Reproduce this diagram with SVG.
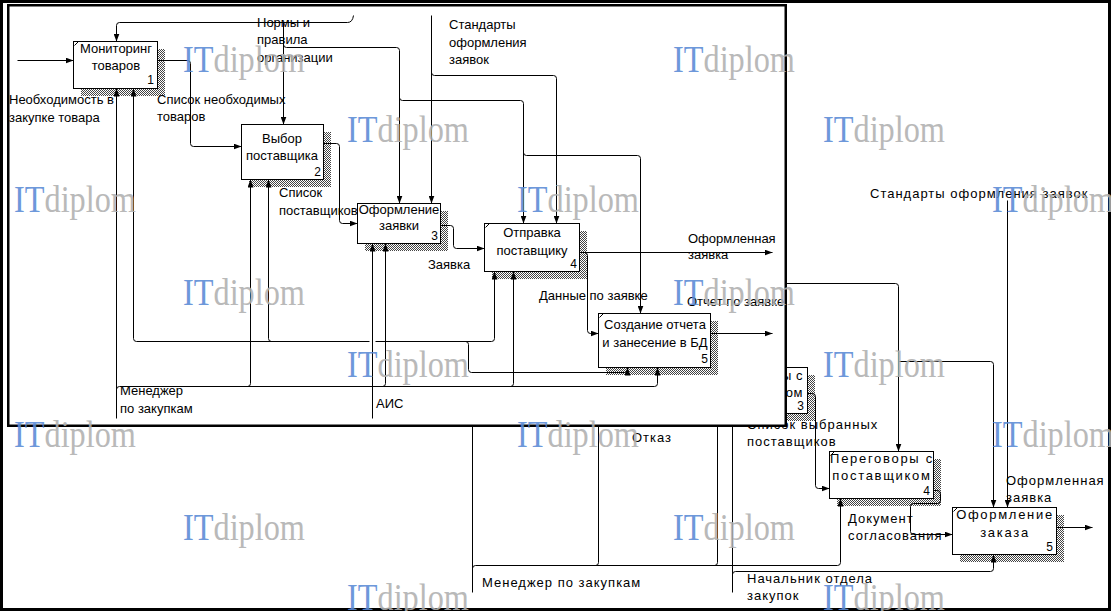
<svg xmlns="http://www.w3.org/2000/svg" width="1111" height="611" viewBox="0 0 1111 611">
<defs>
<style>
.bx{fill:#fff;stroke:#000;stroke-width:1}
.sh{fill:url(#hatch)}
.sl{stroke:#000;stroke-width:1;fill:none}
.t{font-family:"Liberation Sans",Arial,sans-serif;font-size:13px;fill:#000}
.c{text-anchor:middle}
.n{font-size:12px;text-anchor:end}
.e{text-anchor:end}
.bl{letter-spacing:1px}
.bb{letter-spacing:1.7px}
.ln{fill:none;stroke:#000;stroke-width:1}
.ar{marker-end:url(#ar)}
.wm{font-family:"Liberation Serif","Times New Roman",serif;font-size:38px;opacity:0.88}
.wi{fill:#5a8ad6}
.wd{fill:#b0b0b0}
</style>
<pattern id="hatch" width="2" height="2" patternUnits="userSpaceOnUse">
<rect width="2" height="2" fill="#fff"/>
<rect width="1" height="1" fill="#444"/>
<rect x="1" y="1" width="1" height="1" fill="#444"/>
</pattern>
<marker id="ar" viewBox="0 0 8 6" refX="8" refY="3" markerWidth="8" markerHeight="6" markerUnits="userSpaceOnUse" orient="auto">
<path d="M0,0 L8,3 L0,6 z" fill="#000"/>
</marker>
</defs>

<!-- background diagram -->
<g id="diagram-b">
<rect x="1.5" y="1.5" width="1108" height="608" fill="#fff" stroke="#000" stroke-width="3"/>
<g id="b3">
<rect class="sh" x="708" y="375" width="107" height="46"/>
<rect class="bx" x="700.5" y="367.5" width="107" height="46"/>
<text class="t e" x="803" y="380" style="letter-spacing:0.5px">ы с</text>
<text class="t e" x="803" y="397" style="letter-spacing:0.5px">ом</text>
<text class="t n" x="804" y="410">3</text>
</g>
<g id="b4">
<rect class="sh" x="837" y="459" width="104" height="47"/>
<rect class="bx" x="829.5" y="451.5" width="104" height="47"/>
<path class="sl" d="M830.5,455.5 L834.5,451.5"/>
<text class="t c bb" x="882" y="463">Переговоры с</text>
<text class="t c bb" x="882" y="480">поставщиком</text>
<text class="t n" x="930" y="495">4</text>
</g>
<g id="b5">
<rect class="sh" x="960" y="515" width="104" height="47"/>
<rect class="bx" x="952.5" y="507.5" width="104" height="47"/>
<path class="sl" d="M953.5,511.5 L957.5,507.5"/>
<text class="t c bb" x="1005" y="519">Оформление</text>
<text class="t c bb" x="1005" y="537">заказа</text>
<text class="t n" x="1053" y="551">5</text>
</g>
<g id="connectors-b" transform="translate(.5 .5)">
<path class="ln ar" d="M786,283 H895 Q898,283 898,286 V451"/>
<path class="ln ar" d="M898,361 H990 Q993,361 993,364 V507"/>
<path class="ln ar" d="M1007,200 V507"/>
<path class="ln ar" d="M807,393 H812 Q815,393 815,396 V485 Q815,488 818,488 H829"/>
<path class="ln ar" d="M933,490 H937 Q940,490 940,493 V500 Q940,503 937,503 H913 Q910,503 910,506 V531 Q910,534 913,534 H952"/>
<path class="ln ar" d="M1056,527 H1092"/>
<path class="ln" d="M472,592 V426"/>
<path class="ln ar" d="M472,568 Q472,565 475,565 H837 Q840,565 840,562 V498"/>
<path class="ln" d="M595,565 Q598,565 598,562 V426"/>
<path class="ln" d="M714,565 Q717,565 717,562 V426"/>
<path class="ln" d="M732,592 V426"/>
<path class="ln ar" d="M732,574 Q732,571 735,571 H990 Q993,571 993,568 V554"/>
</g>
<g id="labels-b">
<text class="t bl" x="870" y="198">Стандарты оформления заявок</text>
<text class="t bl" x="747" y="429">Список выбранных</text>
<text class="t bl" x="747" y="446">поставщиков</text>
<text class="t bl" x="632" y="442">Отказ</text>
<text class="t bl" x="1006" y="485">Оформленная</text>
<text class="t bl" x="1006" y="502">заявка</text>
<text class="t bl" x="848" y="523">Документ</text>
<text class="t bl" x="848" y="540">согласования</text>
<text class="t bl" x="482" y="587">Менеджер по закупкам</text>
<text class="t bl" x="747" y="583">Начальник отдела</text>
<text class="t bl" x="747" y="600">закупок</text>
</g>
</g>

<!-- foreground diagram -->
<g id="diagram-a">
<rect x="8.25" y="5.25" width="777.5" height="420.5" fill="#fff" stroke="#000" stroke-width="2.5"/>
<g id="a1">
<rect class="sh" x="81" y="49" width="84" height="47"/>
<rect class="bx" x="73.5" y="41.5" width="84" height="47"/>
<path class="sl" d="M74.5,45.5 L78.5,41.5"/>
<text class="t c" x="116" y="53">Мониторинг</text>
<text class="t c" x="116" y="70">товаров</text>
<text class="t n" x="154" y="84">1</text>
</g>
<g id="a2">
<rect class="sh" x="249" y="132" width="82" height="55"/>
<rect class="bx" x="241.5" y="124.5" width="82" height="55"/>
<text class="t c" x="282" y="143">Выбор</text>
<text class="t c" x="282" y="160">поставщика</text>
<text class="t n" x="321" y="176">2</text>
</g>
<g id="a3">
<rect class="sh" x="365" y="211" width="83" height="40"/>
<rect class="bx" x="357.5" y="203.5" width="83" height="40"/>
<text class="t c" x="399" y="214">Оформление</text>
<text class="t c" x="399" y="230">заявки</text>
<text class="t n" x="438" y="240">3</text>
</g>
<g id="a4">
<rect class="sh" x="492" y="231" width="95" height="48"/>
<rect class="bx" x="484.5" y="223.5" width="95" height="48"/>
<path class="sl" d="M485.5,227.5 L489.5,223.5"/>
<text class="t c" x="532" y="237">Отправка</text>
<text class="t c" x="532" y="255">поставщику</text>
<text class="t n" x="577" y="268">4</text>
</g>
<g id="a5">
<rect class="sh" x="606" y="321" width="112" height="54"/>
<rect class="bx" x="598.5" y="313.5" width="112" height="54"/>
<path class="sl" d="M599.5,317.5 L603.5,313.5"/>
<text class="t c" x="655" y="329">Создание отчета</text>
<text class="t c" x="655" y="347">и занесение в БД</text>
<text class="t n" x="708" y="363">5</text>
</g>
<g id="connectors-a" transform="translate(.5 .5)">
<path class="ln ar" d="M17,60 H73"/>
<path class="ln ar" d="M353,15 Q352,22 347,22 H119 Q116,22 116,25 V41"/>
<path class="ln ar" d="M283,22 V124"/>
<path class="ln ar" d="M283,44 Q283,47 286,47 H396 Q399,47 399,50 V203"/>
<path class="ln ar" d="M399,97 Q399,100 402,100 H520 Q523,100 523,103 V223"/>
<path class="ln ar" d="M523,152 Q523,155 526,155 H637 Q640,155 640,158 V313"/>
<path class="ln ar" d="M431,15 V203"/>
<path class="ln ar" d="M431,72 Q431,75 434,75 H553 Q556,75 556,78 V223"/>
<path class="ln ar" d="M157,60 H187 Q190,60 190,63 V143 Q190,146 193,146 H241"/>
<path class="ln ar" d="M323,143 H336 Q339,143 339,146 V220 Q339,223 342,223 H357"/>
<path class="ln ar" d="M440,225 H450 Q453,225 453,228 V245 Q453,248 456,248 H484"/>
<path class="ln ar" d="M579,252 H772"/>
<path class="ln ar" d="M584,252 Q587,252 587,255 V330 Q587,333 590,333 H598"/>
<path class="ln ar" d="M710,333 H772"/>
<path class="ln ar" d="M116,418 V88"/>
<path class="ln ar" d="M116,389 Q116,386 119,386 H654 Q657,386 657,383 V367"/>
<path class="ln ar" d="M247,386 Q250,386 250,383 V179"/>
<path class="ln ar" d="M382,386 Q385,386 385,383 V243"/>
<path class="ln ar" d="M510,386 Q513,386 513,383 V271"/>
<path class="ln ar" d="M372,418 V243"/>
<path class="ln ar" d="M369,341 H136 Q133,341 133,338 V88"/>
<path class="ln ar" d="M271,341 Q268,341 268,338 V179"/>
<path class="ln ar" d="M375,341 H491 Q494,341 494,338 V271"/>
<path class="ln ar" d="M465,341 Q468,341 468,344 V369 Q468,372 471,372 H624 Q627,372 627,369 V367"/>
</g>
<g id="labels-a">
<text class="t" x="9" y="104">Необходимость в</text>
<text class="t" x="9" y="122">закупке товара</text>
<text class="t" x="157" y="104">Список необходимых</text>
<text class="t" x="157" y="121">товаров</text>
<text class="t" x="257" y="27">Нормы и</text>
<text class="t" x="257" y="44">правила</text>
<text class="t" x="257" y="62">организации</text>
<text class="t" x="449" y="29">Стандарты</text>
<text class="t" x="449" y="47">оформления</text>
<text class="t" x="449" y="64">заявок</text>
<text class="t" x="279" y="197">Список</text>
<text class="t" x="279" y="215">поставщиков</text>
<text class="t" x="428" y="269">Заявка</text>
<text class="t" x="688" y="243">Оформленная</text>
<text class="t" x="688" y="259">заявка</text>
<text class="t" x="539" y="300">Данные по заявке</text>
<text class="t" x="687" y="306">Отчет по заявке</text>
<text class="t" x="120" y="395">Менеджер</text>
<text class="t" x="120" y="413">по закупкам</text>
<text class="t" x="376" y="408">АИС</text>
</g>
</g>

<g id="watermarks" class="wm">
<text x="183" y="72" textLength="122" lengthAdjust="spacingAndGlyphs"><tspan class="wi">IT</tspan><tspan class="wd">diplom</tspan></text>
<text x="673" y="72" textLength="122" lengthAdjust="spacingAndGlyphs"><tspan class="wi">IT</tspan><tspan class="wd">diplom</tspan></text>
<text x="347" y="142" textLength="122" lengthAdjust="spacingAndGlyphs"><tspan class="wi">IT</tspan><tspan class="wd">diplom</tspan></text>
<text x="823" y="142" textLength="122" lengthAdjust="spacingAndGlyphs"><tspan class="wi">IT</tspan><tspan class="wd">diplom</tspan></text>
<text x="14" y="212" textLength="122" lengthAdjust="spacingAndGlyphs"><tspan class="wi">IT</tspan><tspan class="wd">diplom</tspan></text>
<text x="517" y="212" textLength="122" lengthAdjust="spacingAndGlyphs"><tspan class="wi">IT</tspan><tspan class="wd">diplom</tspan></text>
<text x="992" y="212" textLength="122" lengthAdjust="spacingAndGlyphs"><tspan class="wi">IT</tspan><tspan class="wd">diplom</tspan></text>
<text x="183" y="305" textLength="122" lengthAdjust="spacingAndGlyphs"><tspan class="wi">IT</tspan><tspan class="wd">diplom</tspan></text>
<text x="673" y="305" textLength="122" lengthAdjust="spacingAndGlyphs"><tspan class="wi">IT</tspan><tspan class="wd">diplom</tspan></text>
<text x="347" y="377" textLength="122" lengthAdjust="spacingAndGlyphs"><tspan class="wi">IT</tspan><tspan class="wd">diplom</tspan></text>
<text x="823" y="377" textLength="122" lengthAdjust="spacingAndGlyphs"><tspan class="wi">IT</tspan><tspan class="wd">diplom</tspan></text>
<text x="14" y="447" textLength="122" lengthAdjust="spacingAndGlyphs"><tspan class="wi">IT</tspan><tspan class="wd">diplom</tspan></text>
<text x="517" y="447" textLength="122" lengthAdjust="spacingAndGlyphs"><tspan class="wi">IT</tspan><tspan class="wd">diplom</tspan></text>
<text x="992" y="447" textLength="122" lengthAdjust="spacingAndGlyphs"><tspan class="wi">IT</tspan><tspan class="wd">diplom</tspan></text>
<text x="183" y="540" textLength="122" lengthAdjust="spacingAndGlyphs"><tspan class="wi">IT</tspan><tspan class="wd">diplom</tspan></text>
<text x="673" y="540" textLength="122" lengthAdjust="spacingAndGlyphs"><tspan class="wi">IT</tspan><tspan class="wd">diplom</tspan></text>
<text x="347" y="610" textLength="122" lengthAdjust="spacingAndGlyphs"><tspan class="wi">IT</tspan><tspan class="wd">diplom</tspan></text>
<text x="823" y="610" textLength="122" lengthAdjust="spacingAndGlyphs"><tspan class="wi">IT</tspan><tspan class="wd">diplom</tspan></text>
</g>
</svg>
